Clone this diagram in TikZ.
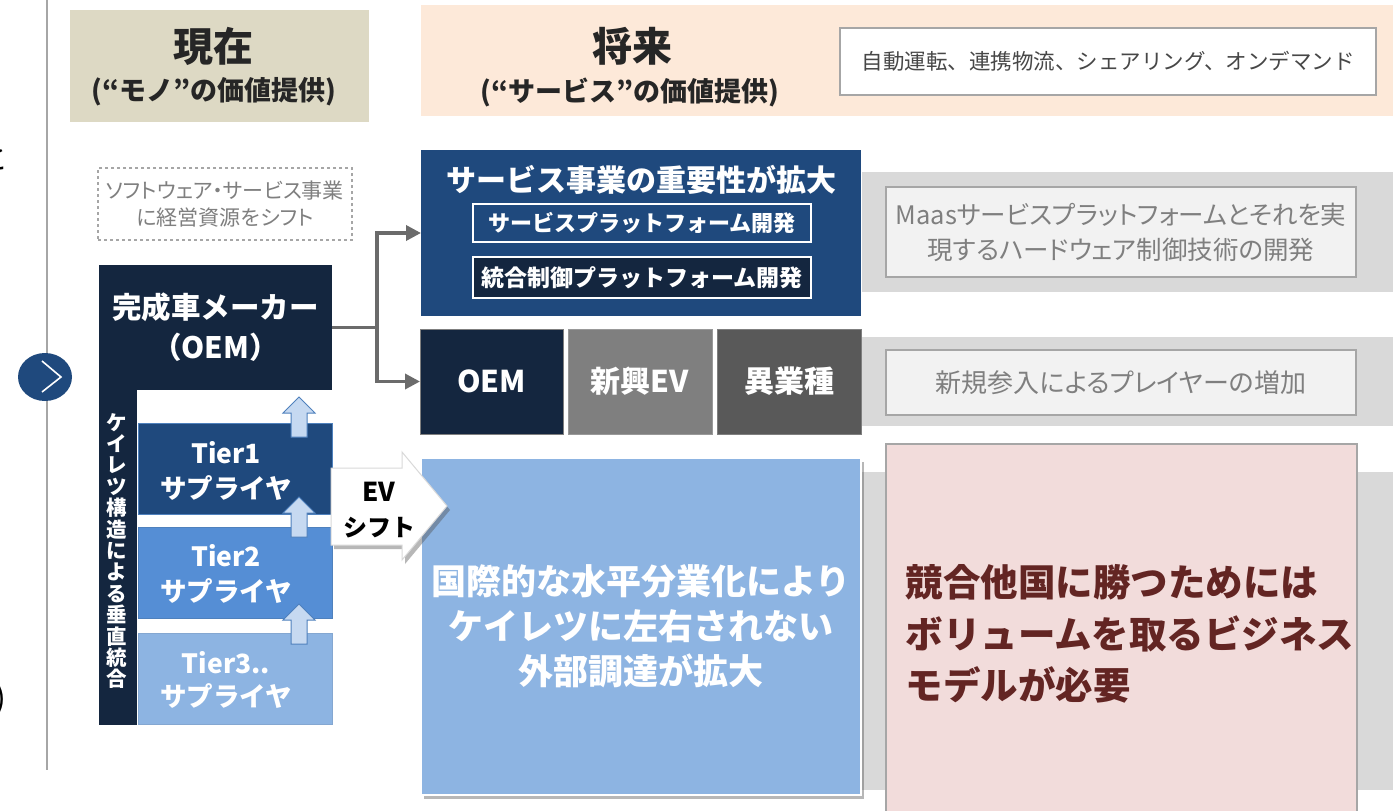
\documentclass[tikz,border=0pt]{standalone}
\usepackage{fontspec}
\setmainfont{Noto Sans CJK JP}
\newfontfamily\paltfont[Script=CJK, RawFeature=+palt]{Noto Sans CJK JP}
\usetikzlibrary{shadows,arrows.meta}
\definecolor{navy}{HTML}{14263F}
\definecolor{blueA}{HTML}{1F497D}
\definecolor{blueB}{HTML}{558ED5}
\definecolor{blueC}{HTML}{8DB4E2}
\definecolor{blueL}{HTML}{C6D9F1}
\definecolor{blueE}{HTML}{4F81BD}
\definecolor{bandgray}{HTML}{D9D9D9}
\definecolor{innergray}{HTML}{F2F2F2}
\definecolor{bordergray}{HTML}{A6A6A6}
\definecolor{textgray}{HTML}{7F7F7F}
\definecolor{darktext}{HTML}{262626}
\definecolor{beige}{HTML}{DDD9C4}
\definecolor{peach}{HTML}{FDE9D9}
\definecolor{pink}{HTML}{F2DCDB}
\definecolor{darkred}{HTML}{632523}
\definecolor{midgray}{HTML}{7F7F7F}
\definecolor{dkgray}{HTML}{595959}
\definecolor{connc}{HTML}{6B6B6B}
\newcommand\myfs[2]{\fontsize{#1}{#2}\selectfont}
\begin{document}
\begin{tikzpicture}[x=1pt,y=-1pt,
  box/.style={inner sep=0pt, outer sep=0pt, anchor=north west, align=center},
  wtext/.style={text=white, font=\bfseries, align=center},
  conn/.style={draw=connc, line width=3.5pt, -{Triangle[length=15pt,width=15pt]}},
  uparrow/.pic={\draw[fill=blueL, draw=blueE, line width=1pt]
     (-8,40) -- (-8,16) -- (-16,16) -- (0,0) -- (16,16) -- (8,16) -- (8,40) -- cycle;},
  bshadow/.style={drop shadow={shadow xshift=3pt, shadow yshift=-4pt, opacity=0.4, fill=black!70}}
]
\useasboundingbox (0,0) rectangle (1393,811);
\fill[white] (0,0) rectangle (1393,811);

% left edge remnants
\begin{scope}
\clip (0,0) rectangle (1393,811);
\node[anchor=east, text=black, font=\myfs{30}{30}] (remA) at (12,158) {と};
\node[anchor=east, text=black, font=\myfs{32}{32}] (remB) at (10,700) {)};
\end{scope}

% vertical separator and circle
\draw[bordergray, line width=2pt] (47,0) -- (47,770);
\fill[blueA] (45,377) ellipse [x radius=27, y radius=24];
\draw[white, line width=1.6pt] (42,361) -- (61,377) -- (42,392);

% headers
\node[box, fill=beige, minimum width=299, minimum height=112] (hnow) at (70,10) {};
\node[text=darktext, font=\myfs{40}{40}\bfseries] (hnowA) at (213,46) {現在};
\node[text=darktext, font=\myfs{27}{27}\bfseries] (hnowB) at (214,92) {(“モノ”の価値提供)};
\node[box, fill=peach, minimum width=972, minimum height=111] (hfut) at (421,5) {};
\node[text=darktext, font=\myfs{40}{40}\bfseries] (hfutA) at (632,46) {将来};
\node[text=darktext, font=\myfs{27}{27}\bfseries] (hfutB) at (630,92) {(“サービス”の価値提供)};
\node[box, fill=white, draw=bordergray, line width=1.5pt, minimum width=536, minimum height=67,
      text=darktext!85, font=\myfs{21.5}{22}] (tags) at (840,28) {自動運転、連携物流、シェアリング、オンデマンド};

% dashed note
\node[box, draw=bordergray, dashed, line width=1.2pt, minimum width=254, minimum height=72,
      text=textgray, font=\paltfont\myfs{21}{27}] (note) at (98,168) {ソフトウェア・サービス事業\\に経営資源をシフト};

% OEM L-block
\fill[navy] (99,265) rectangle (332,390);
\fill[navy] (99,390) rectangle (137,725);
\node[box, minimum width=233, minimum height=125, wtext, font=\myfs{29.5}{40}\bfseries] (oemtop) at (99,265)
  {完成車メーカー\\（OEM）};
\node[wtext, font=\myfs{20.5}{21.4}\bfseries] (keiretsu) at (117,551)
  {ケ\\イ\\レ\\ツ\\構\\造\\に\\よ\\る\\垂\\直\\統\\合};

% tiers
\node[box, fill=blueA, draw=blueE, line width=1pt, minimum width=194, minimum height=91] (tier1) at (138,423) {};
\node[box, fill=blueB, draw=blueE, line width=1pt, minimum width=194, minimum height=91] (tier2) at (138,527) {};
\node[box, fill=blueC, draw=blueE!70, line width=1pt, minimum width=194, minimum height=91] (tier3) at (138,633) {};
\node[wtext, font=\myfs{26.5}{35}\bfseries] (tier1t) at (226,471) {Tier1\\サプライヤ};
\node[wtext, font=\myfs{26.5}{35}\bfseries] (tier2t) at (226,574) {Tier2\\サプライヤ};
\node[wtext, font=\myfs{26.5}{33}\bfseries] (tier3t) at (226,680) {Tier3..\\サプライヤ};
\pic at (299,397) {uparrow};
\pic at (299,497) {uparrow};
\pic at (299,604) {uparrow};

% service box
\node[box, fill=blueA, minimum width=440, minimum height=166] (svc) at (421,150) {};
\node[wtext, font=\myfs{30}{30}\bfseries] (svct) at (641,180) {サービス事業の重要性が拡大};
\node[box, fill=blueA, draw=white, line width=1.5pt, minimum width=338, minimum height=38,
      wtext, font=\myfs{22}{22}\bfseries] (svc1) at (473,204) {サービスプラットフォーム開発};
\node[box, fill=navy, draw=white, line width=1.5pt, minimum width=338, minimum height=41,
      wtext, font=\myfs{23}{23}\bfseries] (svc2) at (473,257) {統合制御プラットフォーム開発};

% players row
\node[box, fill=navy, draw=midgray, line width=1pt, minimum width=143, minimum height=105,
      wtext, font=\myfs{30}{30}\bfseries] (roem) at (420,329) {OEM};
\node[box, fill=midgray, draw=midgray!80, line width=1pt, minimum width=144, minimum height=105,
      wtext, font=\myfs{30}{30}\bfseries] (rev) at (568,329) {新興EV};
\node[box, fill=dkgray, draw=midgray, line width=1pt, minimum width=144, minimum height=105,
      wtext, font=\myfs{30}{30}\bfseries] (rother) at (717,329) {異業種};

% connectors
\coordinate (jn) at (377,327.5);
\draw[conn] (oemtop.east) -- (jn) |- (svc.west);
\draw[conn] (jn) |- (roem.west);

% right gray bands
\fill[bandgray] (862,172) rectangle (1393,292);
\node[box, fill=innergray, draw=bordergray, line width=1.5pt, minimum width=470, minimum height=90,
      text=textgray, font=\paltfont\myfs{25.5}{35}] (maas) at (886,187)
  {Maasサービスプラットフォームとそれを実\\現するハードウェア制御技術の開発};
\fill[bandgray] (862,337) rectangle (1393,426);
\node[box, fill=innergray, draw=bordergray, line width=1.5pt, minimum width=470, minimum height=65,
      text=textgray, font=\paltfont\myfs{26}{26}] (newp) at (886,350) {新規参入によるプレイヤーの増加};
\fill[bandgray] (862,472) rectangle (1393,790);

% light blue big box
\node[box, fill=blueC, draw=white, line width=1.5pt, minimum width=440, minimum height=337, bshadow,
      wtext, font=\myfs{35}{45}\bfseries] (hz) at (421,458)
  {国際的な水平分業化により\\ケイレツに左右されない\\外部調達が拡大};

% EV shift arrow
\path[fill=white, draw=bandgray, line width=1pt, bshadow]
  (331,468) -- (402,468) -- (402,452) -- (447,506) -- (402,560) -- (402,545) -- (331,545) -- cycle;
\node[text=black, font=\myfs{26}{35}\bfseries, align=center] (evs) at (379,510) {EV\\{\myfs{24}{35}シフト}};

% pink box
\fill[pink, draw=bordergray, line width=2pt] (886,444) -- (1357,444) -- (1357,815) -- (886,815) -- cycle;
\node[anchor=west, text=darkred, font=\myfs{37.5}{51.5}\bfseries, align=left] (win) at (902,634)
  {競合他国に勝つためには\\ボリュームを取るビジネス\\モデルが必要};
\end{tikzpicture}
\end{document}
